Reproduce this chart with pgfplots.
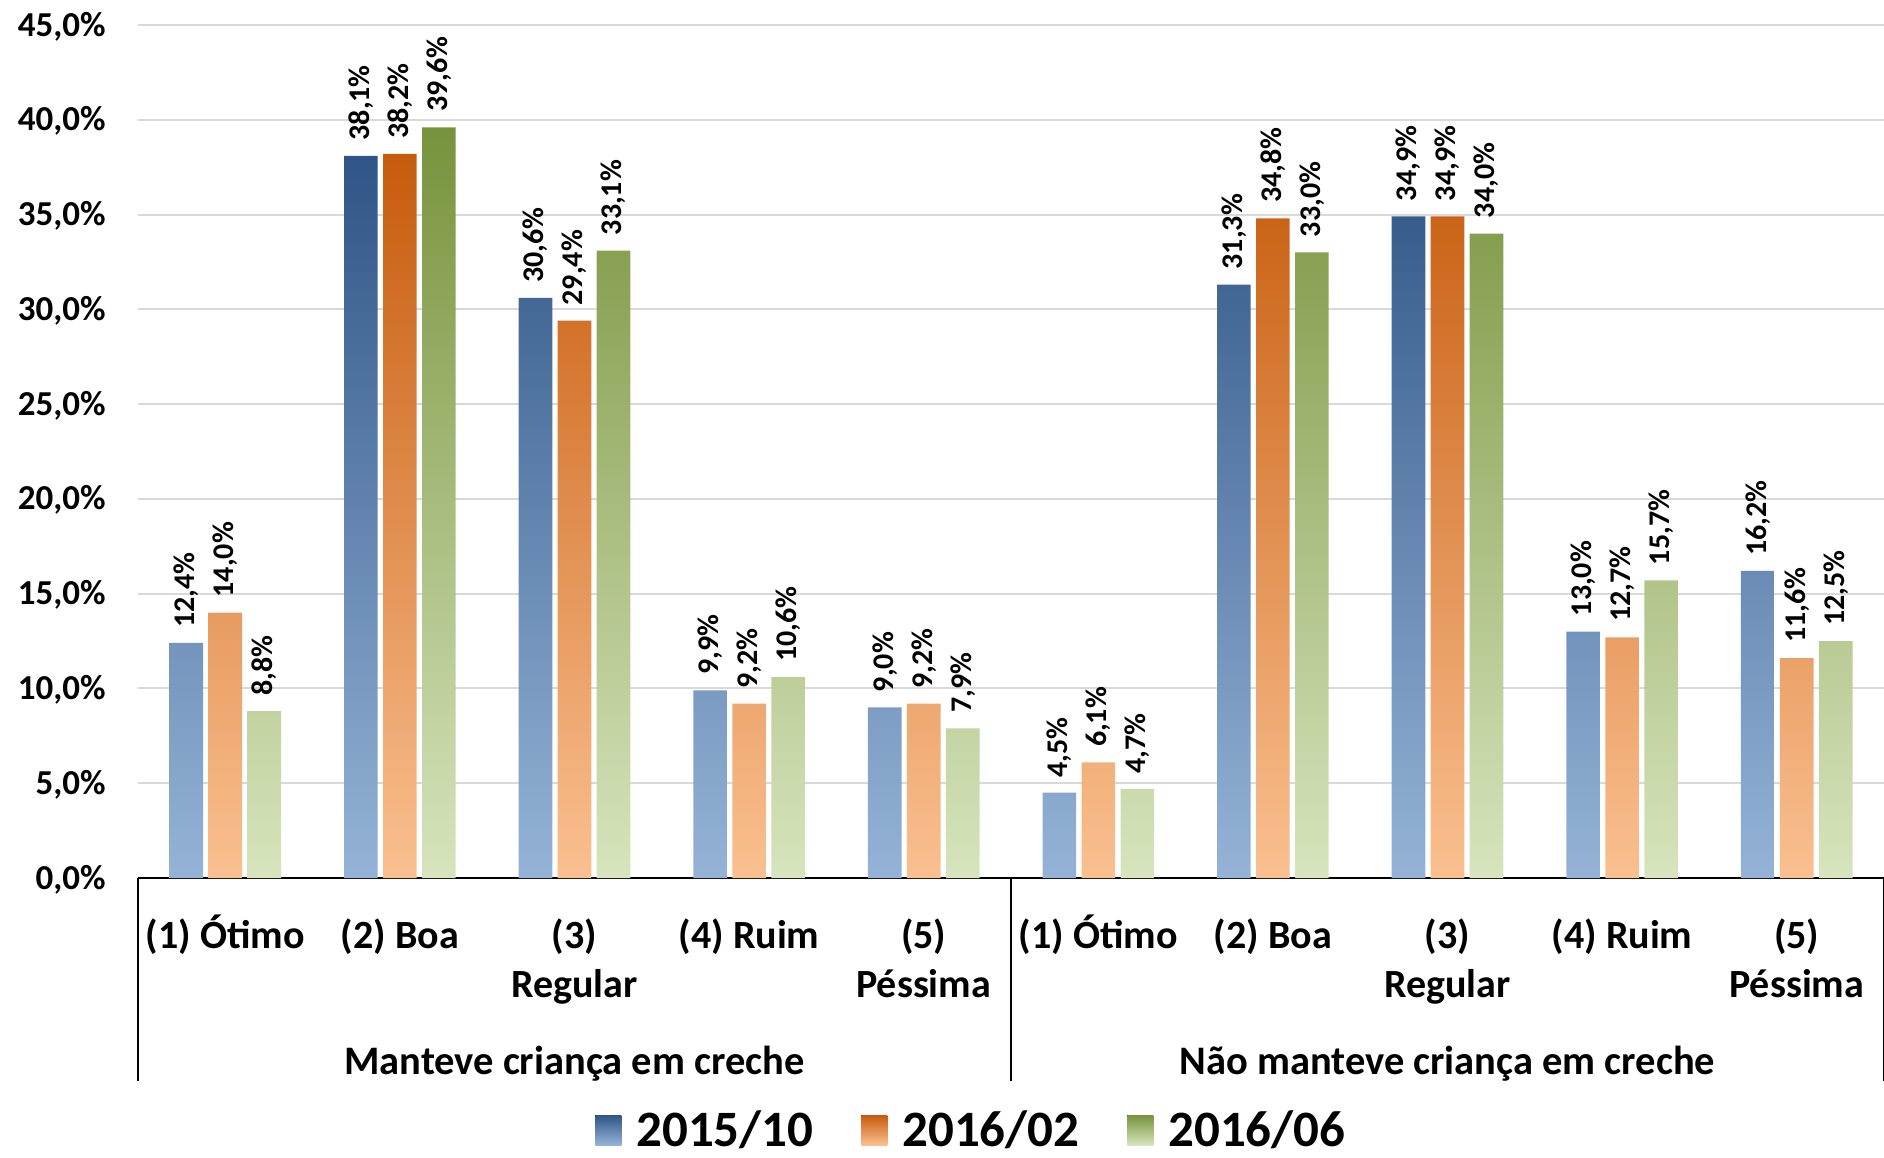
\documentclass[border=0pt]{standalone}
\usepackage{pgfplots}
\pgfplotsset{compat=1.18}
\usepackage{fontspec}
\setmainfont{Carlito}
\definecolor{bTop}{HTML}{2F5586}
\definecolor{bMid}{HTML}{4F81BD}
\definecolor{bBot}{HTML}{95B3D7}
\definecolor{oTop}{HTML}{C65B0C}
\definecolor{oMid}{HTML}{F79646}
\definecolor{oBot}{HTML}{FAC090}
\definecolor{gTop}{HTML}{77933C}
\definecolor{gMid}{HTML}{C3D69B}
\definecolor{gBot}{HTML}{D7E4BD}
\definecolor{gridc}{HTML}{D9D9D9}
\newcommand\tickfont{\fontsize{17.5}{21}\selectfont\bfseries}
\newcommand\catfont{\fontsize{20}{24.5}\selectfont\bfseries}
\newcommand\grpfont{\fontsize{20.25}{24.5}\selectfont\bfseries}
\newcommand\labfont{\fontsize{15}{18}\selectfont\bfseries}
\newcommand\legfont{\fontsize{25.5}{30}\selectfont\bfseries}
\newcommand\Ph{\vphantom{Ó(}}
\begin{document}
\begin{tikzpicture}
\useasboundingbox (-69pt,-139.5pt) rectangle (873pt,439pt);
\begin{axis}[
  scale only axis, width=873pt, height=426.5pt,
  at={(0pt,0pt)}, anchor=south west,
  clip=false,
  xmin=-0.5, xmax=9.5, ymin=0, ymax=45,
  ytick={0,5,...,45},
  xtick={0,...,9},
  xticklabels={{\Ph(1) Ótimo},{\Ph(2) Boa},{\Ph(3)\\Regular},{\Ph(4) Ruim},{\Ph(5)\\Péssima},{\Ph(1) Ótimo},{\Ph(2) Boa},{\Ph(3)\\Regular},{\Ph(4) Ruim},{\Ph(5)\\Péssima}},
  xticklabel style={font=\catfont, align=center, anchor=north, inner sep=0pt, yshift=-18pt},
  yticklabel={\pgfmathprintnumber[fixed,fixed zerofill,precision=1,use comma,assume math mode=true]{\tick}\%},
  yticklabel style={font=\tickfont, anchor=base east, inner sep=0pt, xshift=-16pt, yshift=-5.5pt},
  major tick length=0pt,
  axis x line*=bottom, axis y line*=left,
  y axis line style={draw=none},
  x axis line style={line width=1pt, black},
  ymajorgrids, grid style={gridc, line width=1pt},
  ybar=2.7pt, bar width=16.8pt,
  nodes near coords={\pgfmathprintnumber[fixed,fixed zerofill,precision=1,use comma,assume math mode=true]{\pgfplotspointmeta}\%},
  every node near coord/.append style={font=\labfont, rotate=90, anchor=west, inner xsep=7.5pt, inner ysep=0pt, black},
  legend columns=3,
  legend image code/.code={\fill[#1] (0pt,-7.5pt) rectangle (13pt,7.5pt);},
  legend style={at={(0.481,-0.2955)}, anchor=center, draw=none, fill=none, font=\legfont,
    column sep=0pt, nodes={inner xsep=7.5pt, inner ysep=0pt},
    /tikz/every even column/.append style={column sep=16.5pt}},
]
\addplot[draw=none, top color=bTop, middle color=bMid, bottom color=bBot] coordinates {
(0,12.4) (1,38.1) (2,30.6) (3,9.9) (4,9.0) (5,4.5) (6,31.3) (7,34.9) (8,13.0) (9,16.2)};
\addplot[draw=none, top color=oTop, middle color=oMid, bottom color=oBot] coordinates {
(0,14.0) (1,38.2) (2,29.4) (3,9.2) (4,9.2) (5,6.1) (6,34.8) (7,34.9) (8,12.7) (9,11.6)};
\addplot[draw=none, top color=gTop, middle color=gMid, bottom color=gBot] coordinates {
(0,8.8) (1,39.6) (2,33.1) (3,10.6) (4,7.9) (5,4.7) (6,33.0) (7,34.0) (8,15.7) (9,12.5)};
\legend{2015/10,2016/02,2016/06}
\draw[line width=1pt] (axis cs:-0.5,0) -- ++(0pt,-101.5pt);
\draw[line width=1pt] (axis cs:4.5,0) -- ++(0pt,-101.5pt);
\draw[line width=1pt] (axis cs:9.5,0) -- ++(0pt,-101.5pt);
\node[font=\grpfont, anchor=center, yshift=-92.8pt] at (axis cs:2,0) {Manteve criança em creche};
\node[font=\grpfont, anchor=center, yshift=-92.8pt] at (axis cs:7,0) {Não manteve criança em creche};
\end{axis}
\end{tikzpicture}
\end{document}
